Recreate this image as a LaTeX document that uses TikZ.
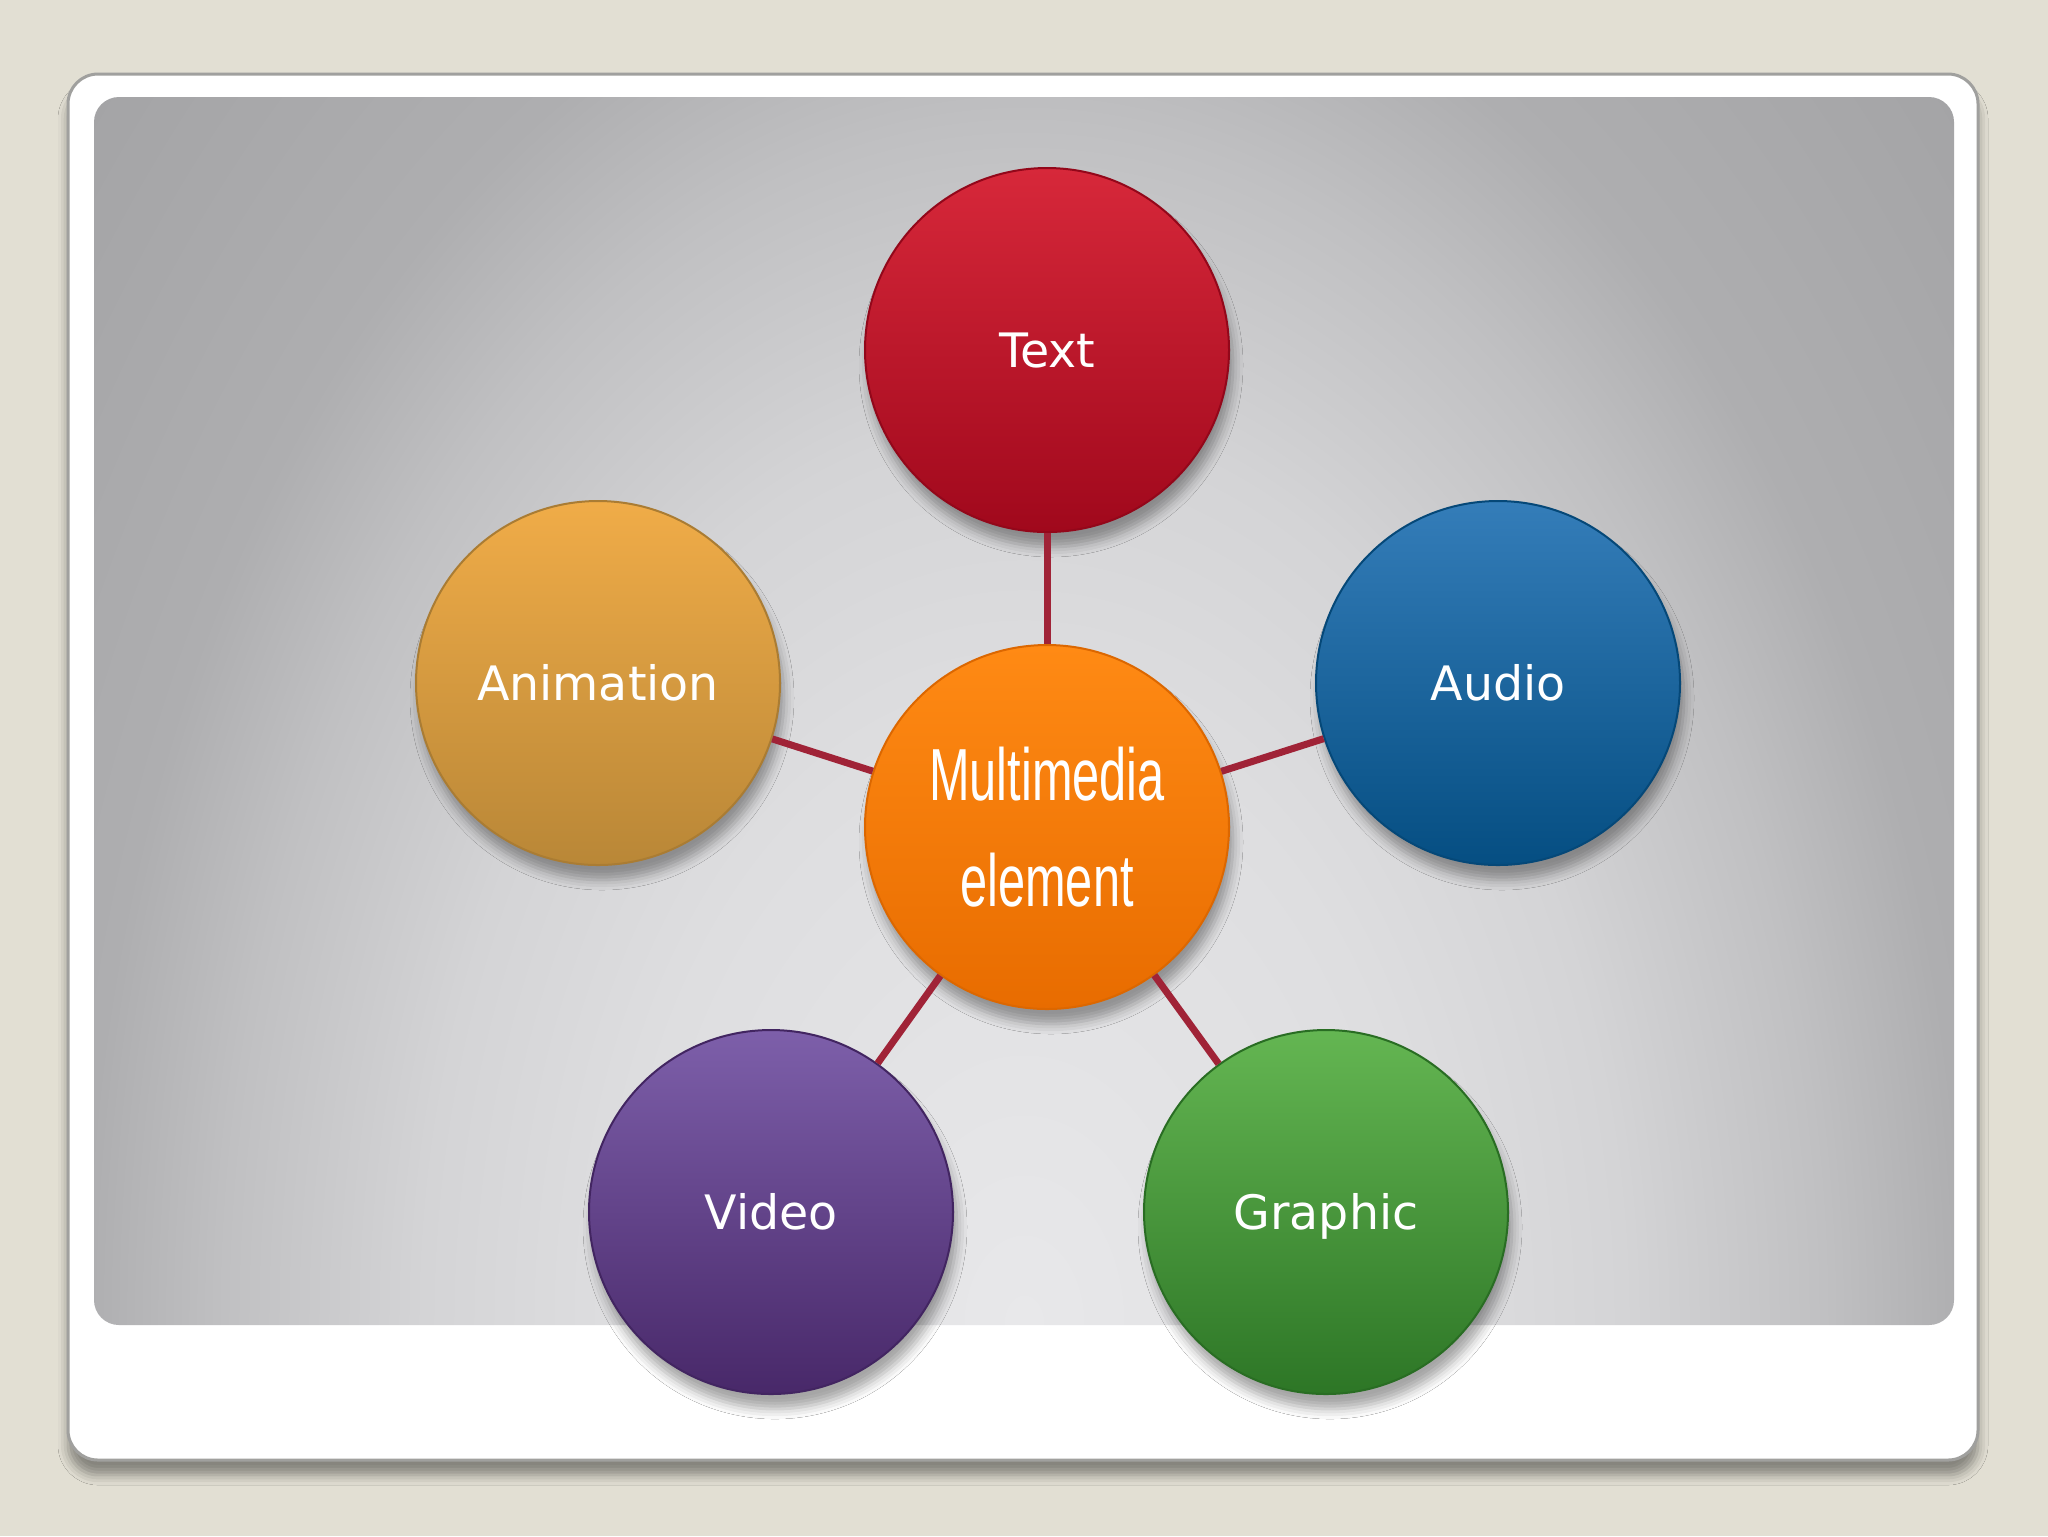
\documentclass[tikz,border=0pt]{standalone}
\usepackage{fontspec}
\usetikzlibrary{shadows.blur}

\newfontfamily\bubblefont{DejaVu Sans}
\newfontfamily\hubfont{Liberation Sans}

\definecolor{slidebg}{RGB}{226,223,211}
\definecolor{cardedge}{RGB}{160,160,158}
\definecolor{linkred}{RGB}{160,35,55}
\definecolor{panelA}{RGB}{232,232,234}
\definecolor{panelB}{RGB}{222,222,224}
\definecolor{panelC}{RGB}{212,212,214}
\definecolor{panelD}{RGB}{192,192,194}
\definecolor{panelE}{RGB}{174,174,176}
\definecolor{panelF}{RGB}{164,164,166}
\definecolor{txtTop}{RGB}{215,40,58}
\definecolor{txtBot}{RGB}{160,8,28}
\definecolor{audTop}{RGB}{52,125,185}
\definecolor{audBot}{RGB}{5,78,130}
\definecolor{animTop}{RGB}{240,172,72}
\definecolor{animBot}{RGB}{185,135,55}
\definecolor{hubTop}{RGB}{255,138,20}
\definecolor{hubBot}{RGB}{232,108,0}
\definecolor{vidTop}{RGB}{125,95,170}
\definecolor{vidBot}{RGB}{72,40,105}
\definecolor{grTop}{RGB}{100,182,82}
\definecolor{grBot}{RGB}{45,118,38}

% half of the shaded box = 25bp
\pgfdeclareradialshading{panelglow}{\pgfpoint{0bp}{0bp}}{%
  color(0bp)=(panelA); color(10bp)=(panelB); color(15bp)=(panelC);
  color(20bp)=(panelD); color(23.5bp)=(panelE); color(31bp)=(panelF);
  color(50bp)=(panelF)}

\tikzset{
  softshadow/.style={blur shadow={shadow xshift=0.4mm, shadow yshift=-1.5mm,
      shadow blur radius=1mm, shadow opacity=35}},
  bubble/.style 2 args={circle, minimum size=36.4mm, inner sep=0pt,
      text=white, font=\bubblefont\fontsize{13.5}{16}\selectfont,
      text height=9.8pt, text depth=0pt,
      top color=#1, bottom color=#2, draw=#2!92!black, line width=0.2mm,
      softshadow},
  hub/.style={circle, minimum size=36.4mm, inner sep=0pt, align=center,
      text=white, font=\hubfont\fontsize{21}{30}\selectfont,
      top color=hubTop, bottom color=hubBot, draw=hubBot!95!black,
      line width=0.2mm, softshadow}
}

\begin{document}
\begin{tikzpicture}[x=0.1mm, y=-0.1mm, node distance=47.7mm]
	\useasboundingbox (0,0) rectangle (2048,1536);
	\fill[slidebg] (0,0) rectangle (2048,1536);

	% card and grey panel
	\fill[white, draw=cardedge, line width=0.3mm, rounded corners=3mm,
	  blur shadow={shadow xshift=0mm, shadow yshift=-1.5mm, shadow blur radius=1mm, shadow opacity=40}]
	  (68,74) rectangle (1978,1460);
	\begin{scope}
		\clip[rounded corners=2.5mm] (94,97) rectangle (1954,1325);
		\shade[shading=panelglow] (24,-175) rectangle (2024,2825);
	\end{scope}

	\node[hub] (hub) at (1047,827) {\scalebox{0.66}[1]{Multimedia}\\\scalebox{0.66}[1]{element}};
	\node[bubble={txtTop}{txtBot}] (txt)[above of = hub] {Text};
	\node[bubble={audTop}{audBot}] (audio) at (1498,683) {Audio};
	\node[bubble={animTop}{animBot}] (anim) at (598,683) {Animation};
	\node[bubble={vidTop}{vidBot}] (video) at (771,1212) {Video};
	\node[bubble={grTop}{grBot}] (graphic) at (1326,1212) {Graphic};

	\path[every edge/.style={draw=linkred, line width=0.7mm}]
	(hub) edge (txt)
	(hub) edge (audio)
	(hub) edge (anim)
	(hub) edge (video)
	(hub) edge (graphic)
	;
\end{tikzpicture}
\end{document}
